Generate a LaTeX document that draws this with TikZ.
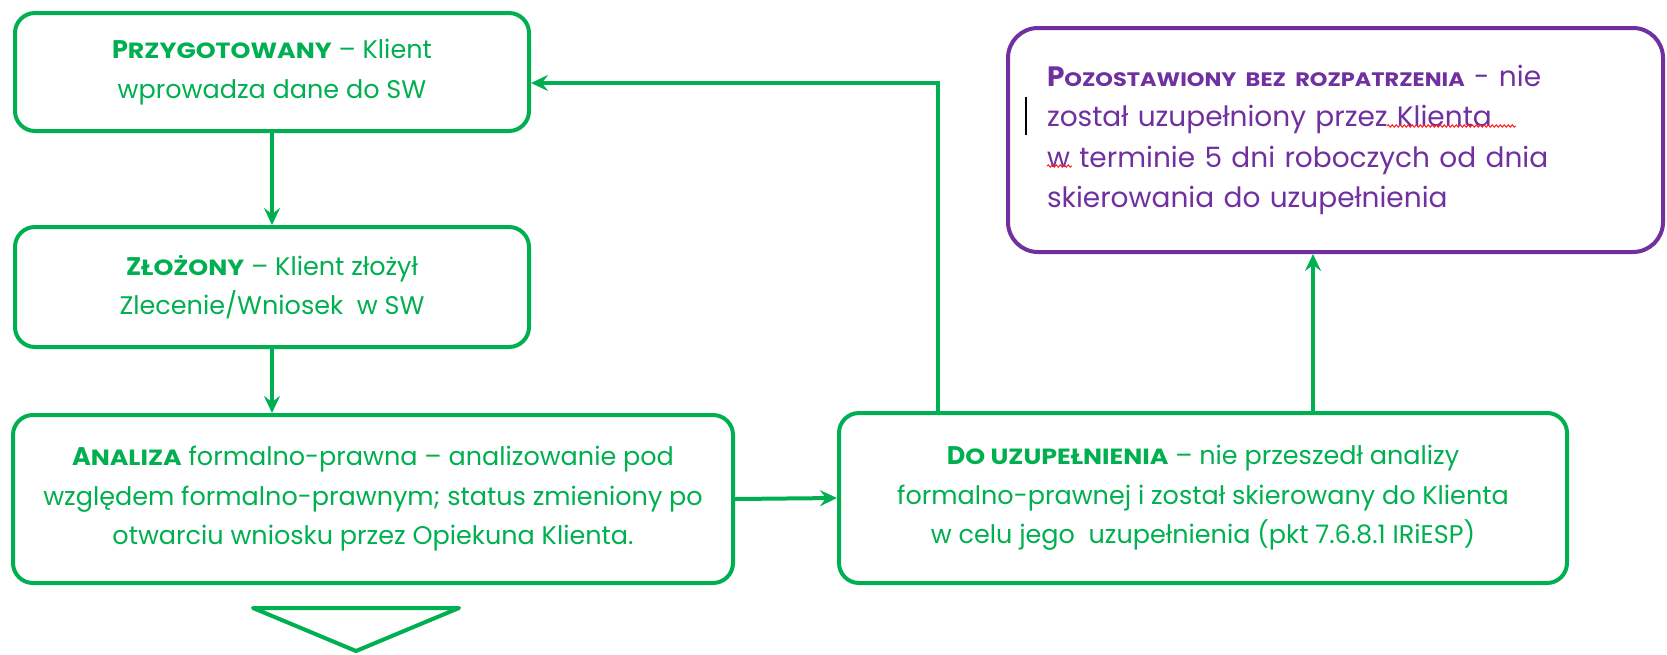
\documentclass[tikz,border=0pt]{standalone}
\usepackage{fontspec}
\setmainfont{Poppins}
\newfontfamily\hdfam[FakeStretch=1.15]{Poppins}
\usetikzlibrary{arrows.meta,decorations.pathmorphing}
\definecolor{grn}{HTML}{00B050}
\definecolor{prp}{HTML}{7030A0}
\definecolor{spell}{HTML}{FF2020}
\newcommand\hd[2]{{\bfseries #1{\hdfam\bfseries\fontsize{22}{39.5}\selectfont #2}}}
\newcommand\phd[2]{{\bfseries #1{\hdfam\bfseries\fontsize{19.5}{40.5}\selectfont #2}}}
\begin{document}
\begin{tikzpicture}[x=1pt,y=-1pt,
  box/.style={draw=grn, line width=4pt, rounded corners=20pt, fill=white,
    text=grn, align=center, inner sep=0pt, font=\fontsize{25.5}{39.5}\selectfont},
  pbox/.style={draw=prp, line width=4pt, rounded corners=30pt, fill=white,
    text=prp, align=left, inner xsep=39pt, inner ysep=0pt, font=\fontsize{28}{40.5}\selectfont},
  arr/.style={draw=grn, line width=4pt, -{Stealth[length=17pt,width=16pt,inset=6pt]}},
  squig/.style={draw=spell, line width=1pt, decorate, decoration={snake, amplitude=1.2pt, segment length=4pt}}
]
\useasboundingbox (0,0) rectangle (1667,654);
\fill[white] (0,0) rectangle (1667,654);

\node[box, minimum width=514pt, minimum height=118pt] (b1) at (272,72)
  {\hd{P}{RZYGOTOWANY} – Klient\\wprowadza dane do SW};
\node[box, minimum width=514pt, minimum height=120pt] (b2) at (272,287)
  {\hd{Z}{ŁOŻONY} – Klient złożył\\Zlecenie/Wniosek\ \ w SW};
\node[box, minimum width=720pt, minimum height=168pt] (b3) at (373,499)
  {\hd{A}{NALIZA} formalno-prawna – analizowanie pod\\względem formalno-prawnym; status zmieniony po\\otwarciu wniosku przez Opiekuna Klienta.};
\node[box, minimum width=728pt, minimum height=170pt] (b4) at (1203,498)
  {\hd{D}{O UZUPEŁNIENIA} – nie przeszedł analizy\\formalno-prawnej i został skierowany do Klienta\\w celu jego\ \ uzupełnienia (pkt 7.6.8.1 IRiESP)};
\node[pbox, minimum width=655pt, minimum height=224pt, text width=577pt] (b5) at (1335.5,140)
  {\phd{P}{OZOSTAWIONY BEZ ROZPATRZENIA} - nie\\został uzupełniony przez Klienta\\w terminie 5 dni roboczych od dnia\\skierowania do uzupełnienia\\[10pt]};

\coordinate (turn) at (938,83);
\coordinate (up5) at (1313,0);

\draw[arr] (b1.south) -- (b2.north);
\draw[arr] (b2.south) -- (b2.south |- b3.north);
\draw[arr] (b3.east) -- (b4.west);
\draw[arr] (b4.north -| turn) -- (turn) -- (b1.east |- turn);
\draw[arr] (b4.north -| up5) -- (b5.south -| up5);

\draw[grn, line width=4pt, line join=round, fill=white] (253,608) -- (459,608) -- (356,651) -- cycle;

\coordinate (sq1a) at (1387,126);
\coordinate (sq1b) at (1516,126);
\coordinate (sq2a) at (1047,166);
\coordinate (sq2b) at (1072,166);
\draw[squig] (sq1a) -- (sq1b);
\draw[squig] (sq2a) -- (sq2b);
\coordinate (cur1) at (1026,97);
\coordinate (cur2) at (1026,135);
\draw[black, line width=1.5pt] (cur1) -- (cur2);
\end{tikzpicture}
\end{document}
